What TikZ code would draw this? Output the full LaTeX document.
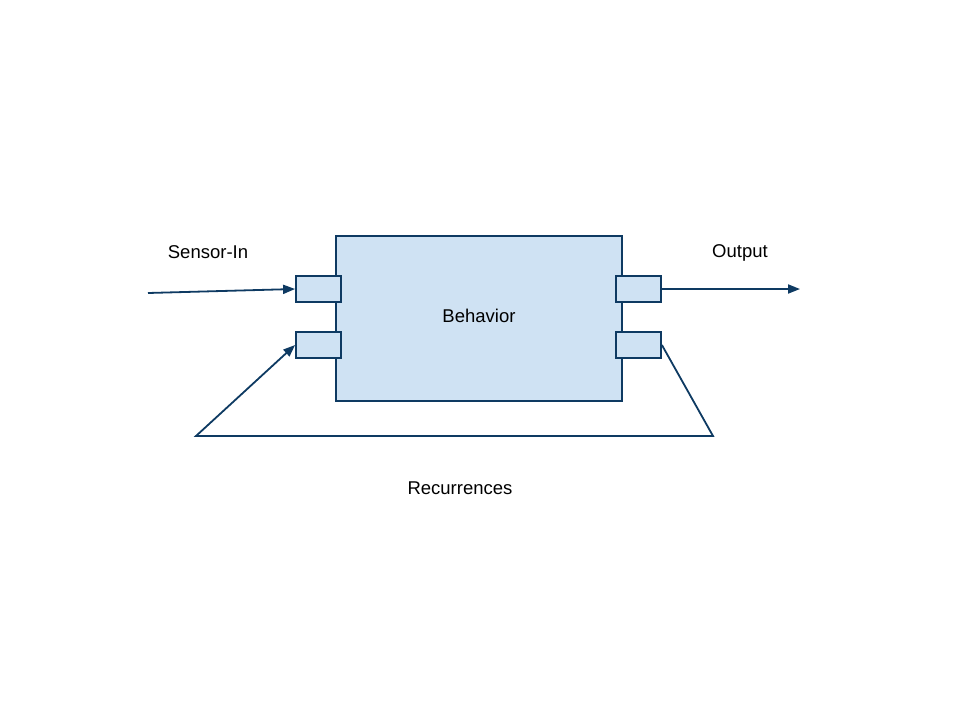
\documentclass[tikz,border=0pt]{standalone}
\usepackage{fontspec}
\setmainfont{Liberation Sans}
\usetikzlibrary{arrows.meta}
\definecolor{boxfill}{HTML}{CFE2F3}
\definecolor{navy}{HTML}{0E3A62}
\begin{document}
\begin{tikzpicture}[x=1pt,y=-1pt,
  blk/.style={draw=navy,fill=boxfill,line width=1.8pt,inner sep=0pt,minimum width=286pt,minimum height=165pt},
  port/.style={draw=navy,fill=boxfill,line width=1.8pt,inner sep=0pt,minimum width=45pt,minimum height=26pt},
  conn/.style={draw=navy,line width=1.8pt},
  arr/.style={conn,-{Triangle[length=12pt,width=9pt]}},
  lbl/.style={font=\fontsize{18.5}{22}\selectfont,inner sep=0pt}]
\useasboundingbox (0,0) rectangle (960,720);
\node[blk] (beh) at (479,318.5) {};
\node[lbl] at (479,316) {Behavior};
\node[port] (lt) at (318.5,289) {};
\node[port] (lb) at (318.5,345) {};
\node[port] (rt) at (638.5,289) {};
\node[port] (rb) at (638.5,345) {};
\coordinate (sin) at (148,293);
\coordinate (sout) at (800,289);
\coordinate (rc1) at (713,436);
\coordinate (rc2) at (196,436);
\draw[arr] (sin) -- (lt.west);
\draw[arr] (rt.east) -- (sout);
\draw[arr,line join=miter] (rb.east) -- (rc1) -- (rc2) -- (lb.west);
\node[lbl] (l1) at (208,252) {Sensor-In};
\node[lbl] (l2) at (740,253) {Output};
\node[lbl] (l3) at (460,488) {Recurrences};
\end{tikzpicture}
\end{document}
